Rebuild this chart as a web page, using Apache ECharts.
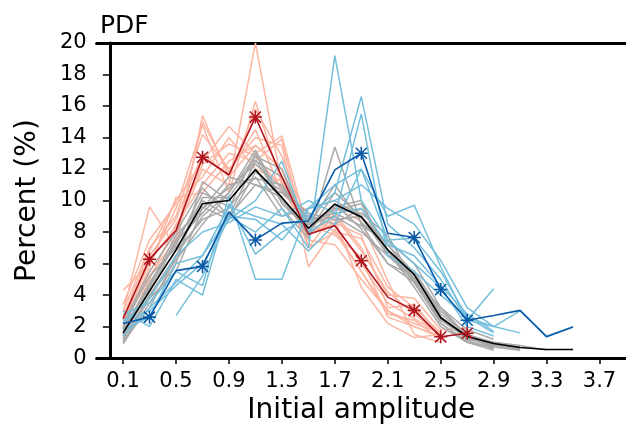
<!DOCTYPE html>
<html>
<head>
<meta charset="utf-8">
<script src="https://cdn.jsdelivr.net/npm/echarts@6/dist/echarts.min.js"></script>
<style>html,body{margin:0;padding:0;background:#fff}#c{width:626px;height:430px}</style>
</head>
<body>
<div id="c"></div>
<script>
// bin centres (Initial amplitude)
const xBins = [0.1,0.3,0.5,0.7,0.9,1.1,1.3,1.5,1.7,1.9,2.1,2.3,2.5,2.7,2.9,3.1,3.3,3.5];
const xTickLabels = [0.1,0.5,0.9,1.3,1.7,2.1,2.5,2.9,3.3,3.7];
const yTickLabels = [0,2,4,6,8,10,12,14,16,18,20];
const starBins = [0.3,0.7,1.1,1.9,2.3,2.5,2.7];

// light red members
const red01 = [2.0,5.5,8.0,12.0,11.0,20.0,11.0,8.0,8.5,6.0,3.5,2.5,1.5];
const red02 = [2.9,9.6,7.0,15.4,11.5,13.5,12.0,7.0,8.0,5.5,3.0,2.0,1.4];
const red03 = [4.3,6.0,9.5,14.8,10.5,16.3,11.0,7.5,7.2,5.0,3.0,2.2,1.6];
const red04 = [2.6,6.8,10.0,12.5,14.7,13.0,14.1,8.0,8.8,4.5,2.2,1.3,1.5];
const red05 = [1.5,5.0,8.5,11.0,13.0,12.5,13.9,7.0,9.2,7.0,4.0,3.8,1.8,1.9];
const red06 = [3.0,7.0,9.0,14.2,12.0,14.0,13.5,5.8,8.2,5.5,2.8,2.4,1.2];
const red07 = [2.2,6.5,8.8,13.0,11.5,15.8,12.8,8.5,7.8,6.4,2.6,2.0,1.3];
const red08 = [1.8,5.8,10.2,10.5,12.5,13.5,12.0,8.2,9.5,8.7,4.9,1.5,1.0];
const red09 = [3.4,7.5,9.8,11.5,14.0,12.0,11.2,7.8,8.6,7.8,3.2,3.4,1.4];
const red10 = [2.4,5.2,7.6,15.0,11.8,14.5,10.5,8.8,9.0,6.8,4.2,2.8,1.4];
const red11 = [1.9,6.2,8.3,12.3,13.6,12.8,10.8,9.2,8.0,7.6,4.5,3.2,1.6];

// grey members
const grey01 = [1.2,4.0,6.5,9.0,10.5,13.2,10.0,8.0,10.5,9.0,6.5,5.0,2.5,1.2,0.8,0.6];
const grey02 = [0.9,3.5,6.0,11.2,10.0,12.0,9.5,7.6,13.4,8.5,6.0,4.8,2.4,1.3,0.7];
const grey03 = [1.8,4.5,7.5,10.0,9.0,12.5,11.5,8.5,9.0,8.0,6.5,5.5,2.8,1.5,0.9,0.5];
const grey04 = [2.0,5.2,7.0,9.5,11.5,11.0,10.5,9.0,8.5,9.5,6.8,4.5,2.0,1.0,0.5];
const grey05 = [1.4,4.4,6.8,8.8,9.5,13.0,9.8,8.2,9.6,10.0,6.5,5.5,3.0,1.5,1.0,0.7];
const grey06 = [1.0,3.8,5.5,9.5,10.8,12.3,10.8,8.8,9.2,8.4,7.4,6.0,3.2,1.8,1.2];
const grey07 = [1.6,4.8,7.2,10.5,9.6,11.5,9.0,9.5,10.0,9.0,6.8,4.8,2.5,1.3,0.9,0.6];
const grey08 = [2.2,5.5,8.0,10.8,9.0,11.0,10.2,7.8,9.4,9.8,6.8,5.0,2.2,1.1,0.6];
const grey09 = [1.3,3.9,6.2,8.5,10.5,12.8,12.0,8.0,9.8,8.2,6.0,5.2,2.6,1.4,1.0,0.8,0.5];
const grey10 = [1.9,4.6,7.8,9.6,8.8,11.8,10.6,9.2,8.8,9.0,7.2,5.4,2.6,1.4,0.8];
const grey11 = [1.1,3.2,6.4,10.2,10.2,12.6,10.0,8.4,11.0,8.6,7.2,5.0,3.2,1.4,0.6];
const grey12 = [1.5,4.2,7.4,9.2,11.0,11.4,11.0,8.6,9.5,9.2,7.8,4.8,2.2,1.0,0.7,0.5];

// light blue members
const blue01 = [1.4,3.2,4.8,6.5,9.0,8.0,9.5,7.0,19.2,10.0,7.5,6.0,4.5,2.0,1.4];
const blue02 = [3.0,2.0,5.0,4.0,9.8,6.6,8.0,9.0,10.5,16.6,8.5,7.0,5.0,2.4,2.0,1.6];
const blue03 = [2.4,3.0,4.6,6.0,8.8,10.0,12.5,8.0,9.0,15.5,6.5,5.5,4.0,2.6,1.6];
const blue04 = [2.8,3.5,5.5,4.6,10.3,5.0,5.0,9.5,11.0,12.0,9.0,9.7,5.8,2.4,4.4];
const blue05 = [null,null,2.7,5.2,9.0,8.8,7.5,9.5,10.0,11.0,9.5,8.5,6.2,3.2,2.0,3.0,1.4,2.0];
const blue06 = [1.8,2.6,6.0,6.5,9.6,9.0,8.5,6.8,8.5,12.0,7.5,7.6,5.5,2.6,2.0];
const blue07 = [2.2,3.8,6.5,8.0,8.6,9.6,9.0,10.0,9.2,9.5,7.2,6.5,4.6,2.8,1.7];

// highlighted lines
const meanAll = [1.6,4.25,6.87,9.8,10.0,11.95,10.2,8.24,9.77,8.95,6.87,5.3,2.56,1.37,0.93,0.67,0.55,0.55];
const redMean = [2.5,6.28,8.1,12.75,11.64,15.3,11.5,7.86,8.4,6.18,3.87,3.03,1.35,1.58];
const blueMean = [2.2,2.6,5.55,5.82,9.28,7.5,8.57,8.7,11.95,13.0,7.92,7.65,4.35,2.4,2.7,3.03,1.35,1.98];

const redMembers = [red01,red02,red03,red04,red05,red06,red07,red08,red09,red10,red11];
const greyMembers = [grey01,grey02,grey03,grey04,grey05,grey06,grey07,grey08,grey09,grey10,grey11,grey12];
const blueMembers = [blue01,blue02,blue03,blue04,blue05,blue06,blue07];

const STAR = 'path://M0 8.8L20 8.8L20 11.2L0 11.2Z M8.8 0L11.2 0L11.2 20L8.8 20Z M2.35 0.65L19.35 17.65L17.65 19.35L0.65 2.35Z M19.35 2.35L2.35 19.35L0.65 17.65L17.65 0.65Z';

function pts(vals){
  const out = [];
  vals.forEach((v,i)=>{ if (v !== null && v !== undefined) out.push([xBins[i], v]); });
  return out;
}
function thin(vals, color){
  return {type:'line', data:pts(vals), symbol:'none', silent:true, animation:false,
    lineStyle:{color:color, width:1.5}, z:2};
}
function isStar(x){ return starBins.some(s => Math.abs(s - x) < 1e-6); }

const series = [];
redMembers.forEach(a => series.push(thin(a,'#fcb6a2')));
greyMembers.forEach(a => series.push(thin(a,'#a9a9a9')));
blueMembers.forEach(a => series.push(thin(a,'#74bfdb')));
series.push({type:'line', data:pts(meanAll), symbol:'none', animation:false, lineStyle:{color:'#000', width:1.6}, z:3});
series.push({type:'line', data:pts(redMean), animation:false, showSymbol:true,
  symbol:(v)=> isStar(v[0]) ? STAR : 'none', symbolSize:13,
  itemStyle:{color:'#b0141e'}, lineStyle:{color:'#b0141e', width:1.6}, z:4});
series.push({type:'line', data:pts(blueMean), animation:false, showSymbol:true,
  symbol:(v)=> isStar(v[0]) ? STAR : 'none', symbolSize:13,
  itemStyle:{color:'#0b5aa8'}, lineStyle:{color:'#0b5aa8', width:1.6}, z:4});

const FONT = 'DejaVu Sans';
const chart = echarts.init(document.getElementById('c'), null, {renderer:'canvas'});
chart.setOption({
  animation:false,
  backgroundColor:'#fff',
  title:{text:'PDF', left:95, top:9, textStyle:{fontFamily:FONT, fontSize:25, fontWeight:'normal', color:'#000'}},
  grid:{left:96.6, top:43, width:534, height:317.7, show:false},
  xAxis:[{type:'value', min:-0.1, max:3.9,
    name:'Initial amplitude', nameLocation:'middle', nameGap:37,
    nameTextStyle:{fontFamily:FONT, fontSize:28, color:'#000'},
    axisLine:{show:true, lineStyle:{color:'#000', width:3}},
    axisTick:{show:true, inside:false, length:6, lineStyle:{color:'#000', width:1.5}, customValues:xTickLabels},
    axisLabel:{fontFamily:FONT, fontSize:21, color:'#000', margin:13, customValues:xTickLabels, formatter:(v)=>Number(v).toFixed(1)},
    splitLine:{show:false}},
   {type:'value', position:'top', min:-0.1, max:3.9,
    axisLine:{show:true, onZero:false, lineStyle:{color:'#000', width:3}},
    axisTick:{show:false}, axisLabel:{show:false}, splitLine:{show:false}}],
  yAxis:{type:'value', min:0, max:20, interval:2,
    name:'Percent (%)', nameLocation:'middle', nameGap:55,
    nameTextStyle:{fontFamily:FONT, fontSize:28, color:'#000'},
    axisLine:{show:true, lineStyle:{color:'#000', width:3}},
    axisTick:{show:true, inside:false, length:7, lineStyle:{color:'#000', width:1.5}},
    axisLabel:{fontFamily:FONT, fontSize:21, color:'#000', margin:10, formatter:(v)=>String(v)},
    splitLine:{show:false}},
  series:series
});
</script>
</body>
</html>
